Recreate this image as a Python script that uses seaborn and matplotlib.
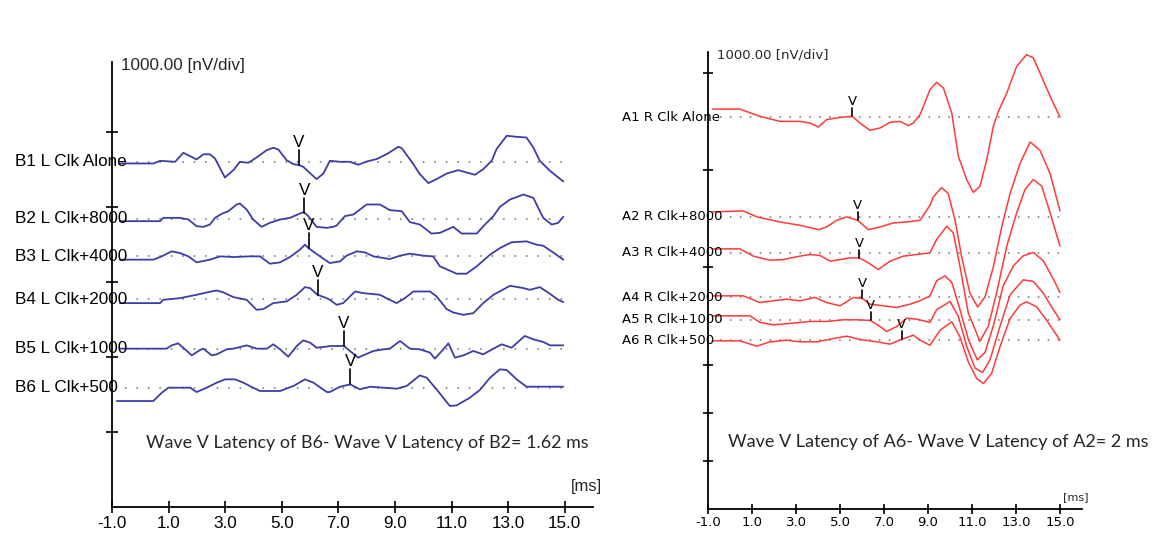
import numpy as np
import pandas as pd
import matplotlib
matplotlib.use("Agg")
import matplotlib.pyplot as plt
import seaborn as sns

# ---------------- data (time in ms, amplitude in divisions of 1000 nV) ----------------
left_names = ["B1 L Clk Alone", "B2 L Clk+8000", "B3 L Clk+4000",
              "B4 L Clk+2000", "B5 L Clk+1000", "B6 L Clk+500"]
left_offsets = [4.60, 3.84, 3.34, 2.77, 2.11, 1.59]
left_latency = [5.61, 5.80, 5.96, 6.27, 7.20, 7.42]

b1_t = [-0.72, 0.46, 0.70, 1.23, 1.52, 1.76, 1.99, 2.23, 2.46, 2.64, 2.99, 3.29, 3.52, 3.82, 4.11,
        4.47, 4.70, 4.88, 5.17, 5.41, 5.61, 5.76, 6.23, 6.47, 6.70, 7.06, 7.41, 7.70, 8.00, 8.35,
        8.71, 9.12, 9.24, 9.65, 9.88, 10.18, 10.47, 10.83, 11.24, 11.53, 11.83, 12.12, 12.42,
        12.59, 12.95, 13.30, 13.65, 13.89, 14.12, 14.48, 14.95]
b1_v = [-0.022, -0.022, 0.013, 0.0, 0.12, 0.076, 0.031, 0.10, 0.10, 0.044, -0.209, -0.111, 0.0,
        -0.013, 0.058, 0.156, 0.187, 0.164, 0.022, -0.031, -0.044, -0.067, -0.231, -0.156, 0.013,
        0.0, 0.0, -0.04, 0.004, 0.036, 0.102, 0.20, 0.182, -0.031, -0.164, -0.284, -0.231, -0.156,
        -0.111, -0.142, -0.173, -0.098, 0.013, 0.169, 0.347, 0.333, 0.324, 0.191, 0.013, -0.12, -0.262]

b2_t = [-0.72, 0.70, 0.81, 1.40, 1.70, 1.99, 2.23, 2.46, 2.64, 2.88, 3.11, 3.41, 3.52, 3.76, 3.99,
        4.29, 4.58, 4.94, 5.29, 5.64, 5.78, 5.94, 6.23, 6.59, 6.82, 6.94, 7.23, 7.53, 8.00, 8.47,
        8.82, 9.24, 9.53, 9.88, 10.29, 10.59, 11.06, 11.36, 11.89, 12.18, 12.48, 12.71, 13.07,
        13.54, 13.89, 14.24, 14.54, 14.77, 14.95]
b2_v = [-0.031, -0.031, 0.013, 0.013, -0.009, -0.098, -0.107, -0.076, 0.013, 0.067, 0.102, 0.191,
        0.204, 0.124, -0.009, -0.107, -0.053, -0.009, 0.013, 0.071, 0.089, 0.036, -0.107, -0.12,
        -0.107, -0.089, 0.036, 0.058, 0.191, 0.191, 0.116, 0.102, -0.044, -0.076, -0.196, -0.187,
        -0.107, -0.196, -0.196, -0.076, 0.036, 0.16, 0.258, 0.324, 0.28, 0.013, -0.076, -0.053, 0.027]

b3_t = [-0.72, 0.46, 0.76, 1.11, 1.40, 1.70, 1.99, 2.46, 2.82, 3.29, 3.88, 4.23, 4.58, 4.94, 5.29,
        5.64, 5.82, 5.94, 6.35, 6.70, 7.06, 7.29, 7.65, 7.94, 8.24, 8.82, 9.18, 9.53, 10.00, 10.35,
        10.59, 11.18, 11.53, 11.89, 12.36, 12.71, 13.12, 13.65, 14.00, 14.24, 14.59, 14.95]
b3_v = [-0.044, -0.044, 0.0, 0.067, 0.044, 0.0, -0.08, -0.044, 0.0, -0.009, 0.0, 0.0, -0.098, -0.08,
        -0.009, 0.089, 0.156, 0.111, 0.0, -0.089, -0.067, 0.009, 0.067, 0.053, 0.0, -0.036, 0.009,
        0.036, 0.009, 0.0, -0.133, -0.231, -0.231, -0.133, 0.022, 0.111, 0.187, 0.20, 0.156, 0.142,
        0.053, -0.044]

b4_t = [-0.72, 0.70, 0.81, 1.40, 1.99, 2.35, 2.70, 2.94, 3.29, 3.76, 4.11, 4.35, 4.70, 5.17, 5.53,
        5.82, 6.00, 6.26, 6.59, 6.70, 6.94, 7.17, 7.59, 7.88, 8.47, 8.76, 9.06, 9.35, 9.65, 10.24,
        10.47, 10.83, 11.06, 11.42, 11.77, 12.12, 12.48, 13.07, 13.54, 13.77, 14.12, 14.48, 14.77, 14.95]
b4_v = [-0.053, -0.053, -0.009, 0.013, 0.058, 0.089, 0.116, 0.089, 0.027, -0.009, -0.142, -0.133,
        -0.053, -0.031, 0.058, 0.16, 0.147, 0.058, 0.013, -0.009, -0.076, -0.053, 0.102, 0.08, 0.058,
        0.0, -0.053, 0.013, 0.102, 0.102, 0.036, -0.133, -0.178, -0.209, -0.187, -0.053, 0.058, 0.178,
        0.147, 0.124, 0.16, 0.071, -0.009, -0.04]

b5_t = [-0.72, 0.93, 1.11, 1.34, 1.58, 1.82, 2.11, 2.23, 2.52, 2.70, 3.05, 3.29, 3.76, 4.11, 4.47,
        4.70, 4.94, 5.23, 5.53, 5.76, 6.00, 6.23, 6.59, 6.70, 7.20, 7.41, 7.70, 7.88, 8.24, 8.59,
        8.82, 9.18, 9.53, 9.88, 10.24, 10.41, 10.71, 10.89, 11.12, 11.42, 11.77, 12.12, 12.48,
        12.77, 13.12, 13.59, 13.89, 14.24, 14.48, 14.95]
b5_v = [0.0, 0.0, 0.044, 0.071, -0.009, -0.089, -0.018, 0.0, -0.089, -0.076, -0.009, 0.0, 0.044,
        0.0, 0.0, 0.058, -0.009, -0.107, 0.036, 0.111, 0.08, 0.013, 0.027, 0.036, 0.036, -0.031,
        -0.12, -0.089, -0.031, -0.009, 0.0, 0.102, 0.0, -0.009, -0.053, -0.133, -0.009, 0.071, -0.12,
        -0.089, -0.031, -0.076, 0.0, 0.058, 0.013, 0.169, 0.124, 0.089, 0.044, 0.044]

b6_t = [-0.83, 0.46, 0.76, 0.99, 1.76, 1.99, 2.35, 2.70, 3.00, 3.35, 3.64, 3.99, 4.23, 4.94, 5.41,
        5.82, 6.12, 6.59, 6.70, 7.06, 7.42, 7.76, 8.12, 8.59, 9.06, 9.41, 9.88, 10.12, 10.47, 10.94,
        11.18, 11.65, 12.00, 12.36, 12.71, 12.95, 13.30, 13.65, 14.24, 14.95]
b6_v = [-0.178, -0.178, -0.067, 0.0, 0.0, -0.058, 0.0, 0.067, 0.111, 0.111, 0.067, 0.0, -0.044,
        -0.044, 0.022, 0.111, 0.067, -0.058, -0.058, 0.013, 0.044, -0.022, 0.013, 0.0, -0.013, 0.022,
        0.164, 0.133, -0.022, -0.244, -0.236, -0.133, -0.031, 0.133, 0.244, 0.236, 0.111, 0.013,
        0.013, 0.013]

right_names = ["A1 R Clk Alone", "A2 R Clk+8000", "A3 R Clk+4000",
               "A4 R Clk+2000", "A5 R Clk+1000", "A6 R Clk+500"]
right_offsets = [4.04, 3.01, 2.64, 2.18, 1.95, 1.74]
right_latency = [5.56, 5.80, 5.88, 6.02, 6.39, 7.80]

a1_t = [-0.79, 0.45, 1.36, 2.27, 3.18, 3.64, 4.02, 4.39, 4.85, 5.15, 5.56, 5.91, 6.36, 6.82, 7.27,
        7.73, 8.11, 8.33, 8.64, 9.09, 9.39, 9.70, 10.08, 10.38, 10.76, 11.06, 11.36, 11.67, 11.97,
        12.20, 12.58, 13.03, 13.48, 13.79, 14.09, 14.55, 15.0]
a1_v = [0.082, 0.082, 0.007, -0.045, -0.045, -0.062, -0.103, -0.027, -0.01, 0.0, 0.007, -0.062,
        -0.137, -0.113, -0.055, -0.045, -0.089, -0.062, 0.024, 0.282, 0.357, 0.299, 0.041, -0.405,
        -0.646, -0.777, -0.715, -0.44, -0.096, 0.058, 0.247, 0.522, 0.643, 0.608, 0.454, 0.213, 0.0]

a2_t = [-0.79, 0.61, 1.23, 2.27, 3.18, 4.02, 4.39, 4.85, 5.30, 5.80, 6.29, 6.82, 7.42, 8.03, 8.64,
        9.09, 9.24, 9.62, 9.92, 10.23, 10.53, 10.91, 11.26, 11.59, 11.97, 12.35, 12.73, 13.18,
        13.64, 14.09, 14.55, 15.0]
a2_v = [0.052, 0.062, 0.0, -0.052, -0.086, -0.131, -0.103, -0.034, 0.0, -0.034, -0.131, -0.103,
        -0.062, -0.052, -0.034, 0.12, 0.206, 0.302, 0.241, -0.034, -0.412, -0.79, -0.928, -0.825,
        -0.515, -0.103, 0.241, 0.55, 0.773, 0.687, 0.447, 0.062]

a3_t = [-0.79, 0.45, 1.06, 1.82, 2.42, 3.18, 3.64, 4.09, 4.55, 5.00, 5.45, 5.88, 6.29, 6.74, 7.27,
        7.88, 8.48, 9.09, 9.39, 9.85, 10.15, 10.45, 10.83, 11.36, 11.74, 12.12, 12.58, 13.03, 13.41,
        13.79, 14.17, 14.55, 15.0]
a3_v = [0.041, 0.041, -0.034, -0.076, -0.069, -0.034, -0.017, -0.027, -0.086, -0.069, -0.052,
        -0.052, -0.103, -0.172, -0.086, -0.034, -0.017, 0.0, 0.137, 0.275, 0.206, -0.137, -0.619,
        -0.911, -0.756, -0.412, 0.069, 0.412, 0.653, 0.756, 0.687, 0.412, 0.069]

a4_t = [-0.79, 0.61, 1.36, 1.97, 2.58, 3.18, 3.86, 4.39, 5.00, 5.61, 6.02, 6.36, 6.97, 7.58, 8.18,
        8.64, 9.09, 9.39, 9.77, 10.08, 10.45, 10.83, 11.24, 11.59, 11.97, 12.42, 12.88, 13.33,
        13.79, 14.24, 14.70, 15.0]
a4_v = [0.017, 0.017, -0.052, -0.034, -0.017, -0.034, 0.0, -0.052, -0.086, 0.0, -0.01, -0.069,
        -0.086, -0.103, -0.069, -0.034, 0.017, 0.172, 0.223, 0.155, -0.12, -0.43, -0.643, -0.567,
        -0.292, 0.12, 0.326, 0.43, 0.464, 0.378, 0.189, 0.052]

a5_t = [-0.79, 0.91, 1.36, 1.97, 2.88, 3.64, 4.39, 5.15, 5.76, 6.39, 6.82, 7.12, 7.58, 8.03, 8.48,
        9.09, 9.39, 10.00, 10.38, 10.76, 11.14, 11.48, 11.82, 12.27, 12.73, 13.33, 13.79, 14.24,
        14.70, 15.0]
a5_v = [0.041, 0.041, -0.027, -0.052, -0.034, -0.017, -0.017, 0.0, 0.0, -0.007, -0.069, -0.12,
        -0.069, 0.017, 0.007, -0.027, 0.103, 0.189, 0.034, -0.275, -0.498, -0.543, -0.412, -0.069,
        0.258, 0.412, 0.395, 0.275, 0.103, 0.0]

a6_t = [-0.79, 0.45, 1.21, 1.82, 2.58, 3.18, 3.94, 4.70, 5.30, 5.91, 6.67, 7.27, 7.80, 8.33, 8.64,
        9.09, 9.55, 10.08, 10.45, 10.83, 11.21, 11.52, 11.89, 12.27, 12.73, 13.18, 13.48, 13.94,
        14.39, 15.0]
a6_v = [-0.007, -0.007, -0.062, -0.017, 0.0, -0.017, -0.017, 0.017, 0.041, 0.007, -0.017, -0.041,
        0.007, 0.052, 0.0, -0.052, 0.103, 0.189, 0.034, -0.223, -0.395, -0.447, -0.344, -0.069,
        0.223, 0.361, 0.395, 0.344, 0.206, 0.0]

x_ticks = [-1, 1, 3, 5, 7, 9, 11, 13, 15]
x_ticklabels = ["-1.0", "1.0", "3.0", "5.0", "7.0", "9.0", "11.0", "13.0", "15.0"]
left_yticks = [1, 2, 3, 4, 5]
right_yticks = [0.495, 0.99, 1.485, 2.495, 3.495, 4.495]
left_note = "Wave V Latency of B6- Wave V Latency of B2= 1.62 ms"
right_note = "Wave V Latency of A6- Wave V Latency of A2= 2 ms"
scale_label = "1000.00 [nV/div]"

left_series = [(b1_t, b1_v), (b2_t, b2_v), (b3_t, b3_v), (b4_t, b4_v), (b5_t, b5_v), (b6_t, b6_v)]
right_series = [(a1_t, a1_v), (a2_t, a2_v), (a3_t, a3_v), (a4_t, a4_v), (a5_t, a5_v), (a6_t, a6_v)]


def build_df(names, offsets, series):
    rows = []
    for name, off, (tt, vv) in zip(names, offsets, series):
        for t, v in zip(tt, vv):
            rows.append({"trace": name, "t": t, "amp": v, "y": v + off})
    return pd.DataFrame(rows)


dfL = build_df(left_names, left_offsets, left_series)
dfR = build_df(right_names, right_offsets, right_series)

# ---------------- figure ----------------
sns.set_theme(style="white")
plt.rcParams["font.family"] = ["Liberation Sans", "DejaVu Sans"]

W, H = 1156, 539
fig = plt.figure(figsize=(W / 100, H / 100), dpi=100)
fig.patch.set_facecolor("white")

axL = fig.add_axes([112 / W, (H - 507) / H, 481 / W, 445 / H])
axR = fig.add_axes([708 / W, (H - 509) / H, 374 / W, 457 / H])

BLUE = "#3d3da6"
RED = "#ff3a3a"
DOT = "#6e6e6e"


def draw_panel(ax, df, names, offsets, series, latency, color, lw, dot_pattern,
               dot_start, v_len, label_x, fsize, family):
    ax.hlines(offsets, dot_start, 15.0, colors=DOT, linestyles=[dot_pattern], lw=1.1, zorder=1)
    sns.lineplot(data=df, x="t", y="y", units="trace", estimator=None, sort=False,
                 color=color, lw=lw, ax=ax, legend=False, zorder=3)
    for name, off, (tt, vv), lat in zip(names, offsets, series, latency):
        yv = off + np.interp(lat, tt, vv)
        ax.plot([lat, lat], [yv, yv + v_len], color="black", lw=1.2, zorder=4)
        ax.text(lat, yv + v_len, "V", ha="center", va="bottom", fontsize=fsize,
                family=family, color="black", zorder=4)
        ax.text(label_x, off, name, ha="left", va="center", fontsize=fsize,
                family=family, color="black", clip_on=False, zorder=5)


def style_axis(ax, ylim, yticks, fsize, family, tick_len, pad):
    ax.set_xlim(-1, 16)
    ax.set_ylim(*ylim)
    ax.set_facecolor("none")
    for s in ["top", "right"]:
        ax.spines[s].set_visible(False)
    for s in ["left", "bottom"]:
        ax.spines[s].set_visible(True)
        ax.spines[s].set_color("black")
        ax.spines[s].set_linewidth(1.3)
    ax.set_xticks(x_ticks)
    ax.set_xticklabels(x_ticklabels, fontsize=fsize, family=family)
    ax.set_yticks(yticks)
    ax.set_yticklabels([])
    ax.tick_params(axis="both", which="major", direction="inout", length=tick_len, width=1.2,
                   color="black", pad=pad, labelcolor="black",
                   bottom=True, left=True, top=False, right=False)
    ax.set_xlabel("")
    ax.set_ylabel("")


draw_panel(axL, dfL, left_names, left_offsets, left_series, left_latency, BLUE, 1.3,
           (0, (1, 6.5)), -0.55, 0.2, -4.43, 12.3, ["Liberation Sans"])
draw_panel(axR, dfR, right_names, right_offsets, right_series, right_latency, RED, 1.1,
           (0, (1, 5.5)), -0.45, 0.085, -4.91, 9.5, ["DejaVu Sans"])

style_axis(axL, (0, 5.93), left_yticks, 12.3, ["Liberation Sans"], 9, 2.0)
style_axis(axR, (0, 4.71), right_yticks, 9.5, ["DejaVu Sans"], 7, 1.5)

axL.text(-0.68, 5.89, scale_label, ha="left", va="center", fontsize=12.3,
         family=["Liberation Sans"], clip_on=False)
axR.text(-0.59, 4.68, scale_label, ha="left", va="center", fontsize=9.5,
         family=["DejaVu Sans"], clip_on=False)

axL.text(15.78, 0.267, "[ms]", ha="center", va="center", fontsize=12,
         family=["Liberation Sans"], clip_on=False)
axR.text(15.73, 0.124, "[ms]", ha="center", va="center", fontsize=8,
         family=["DejaVu Sans"], clip_on=False)

noteL = axL.text(0.20, 0.853, left_note, ha="left", va="center", fontsize=13,
                 family=["Lato", "DejaVu Sans"], clip_on=False)
noteR = axR.text(-0.09, 0.69, right_note, ha="left", va="center", fontsize=13,
                 family=["Lato", "DejaVu Sans"], clip_on=False)

# fit the note widths to the reference widths (pixels)
fig.canvas.draw()
renderer = fig.canvas.get_renderer()
for txt, target in [(noteL, 439), (noteR, 419)]:
    w = txt.get_window_extent(renderer).width
    txt.set_fontsize(txt.get_fontsize() * target / w)

fig.savefig("out.png", dpi=100, facecolor="white")
